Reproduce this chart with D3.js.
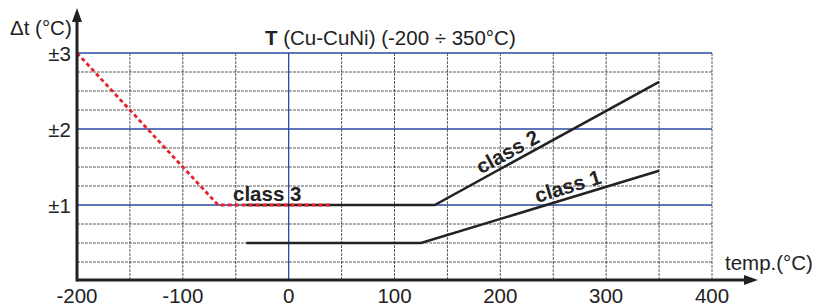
<!DOCTYPE html>
<html><head><meta charset="utf-8">
<script src="https://cdn.jsdelivr.net/npm/d3@7"></script>
<style>body{margin:0;background:#fff}text{font-family:"Liberation Sans",Arial,sans-serif}</style>
</head><body><svg id="c" width="818" height="307"></svg>
<script>
const xTicks = [-200,-100,0,100,200,300,400];
const yTicks = [1,2,3];
const yTickLabels = ["±1","±2","±3"];
const class1 = [[-40,0.5],[125,0.5],[350,1.45]];
const class2 = [[-40,1],[138,1],[350,2.62]];
const class3 = [[-200,3],[-66.7,1],[40,1]];
const titleBold = "T";
const titleRest = " (Cu-CuNi) (-200 ÷ 350°C)";

const svg = d3.select("#c");
const x = d3.scaleLinear().domain([-200,400]).range([77,712]);
const y = d3.scaleLinear().domain([0,3]).range([281,53]);
const gridCol = "#333", blue = "#2a4aa0";
const isInt = d => Math.abs(d-Math.round(d))<1e-6;

// grid
const vx = d3.range(-150,401,50);
svg.selectAll(".vg").data(vx).enter().append("line")
  .attr("x1",d=>x(d)).attr("x2",d=>x(d)).attr("y1",y(3)).attr("y2",y(0))
  .attr("stroke",d=>d===0?blue:gridCol).attr("stroke-width",d=>d===0?1.3:0.8)
  .attr("stroke-dasharray",d=>d===0?null:"3,1");
const hy = d3.range(0.25,3.01,0.25);
svg.selectAll(".hg").data(hy).enter().append("line")
  .attr("x1",x(-200)).attr("x2",x(400)).attr("y1",d=>y(d)).attr("y2",d=>y(d))
  .attr("stroke",d=>isInt(d)?blue:gridCol)
  .attr("stroke-width",d=>isInt(d)?1.3:0.8)
  .attr("stroke-dasharray",d=>isInt(d)?null:"3,1");

const line = d3.line().x(d=>x(d[0])).y(d=>y(d[1]));
svg.append("path").attr("d",line(class1)).attr("fill","none").attr("stroke","#222").attr("stroke-width",2.5);
svg.append("path").attr("d",line(class2)).attr("fill","none").attr("stroke","#222").attr("stroke-width",2.5);
svg.append("path").attr("d",line(class3)).attr("fill","none").attr("stroke","#e8202a").attr("stroke-width",2.8).attr("stroke-dasharray","4,3");

// axes
svg.append("line").attr("x1",x(-200)).attr("x2",750).attr("y1",280).attr("y2",280).attr("stroke","#222").attr("stroke-width",3);
svg.append("path").attr("d","M744,275 L758,280 L744,285 Z").attr("fill","#222");
svg.append("line").attr("x1",x(-200)).attr("x2",x(-200)).attr("y1",281.5).attr("y2",16).attr("stroke","#222").attr("stroke-width",3);
svg.append("path").attr("d",`M${x(-200)-5},22 L${x(-200)},8 L${x(-200)+5},22 Z`).attr("fill","#222");

// tick labels
const fs = 20.5;
svg.selectAll(".xt").data(xTicks).enter().append("text")
  .attr("x",d=>x(d)).attr("y",303).attr("text-anchor","middle").attr("font-size",fs).attr("fill","#222").text(d=>d);
svg.selectAll(".yt").data(yTicks).enter().append("text")
  .attr("x",71).attr("y",d=>y(d)+7.5).attr("text-anchor","end").attr("font-size",fs).attr("fill","#222").text((d,i)=>yTickLabels[i]);

svg.append("text").attr("x",10).attr("y",35).attr("font-size",fs).attr("fill","#222").text("Δt (°C)");
svg.append("text").attr("x",725).attr("y",270).attr("font-size",fs).attr("fill","#222").text("temp.(°C)");
const t = svg.append("text").attr("x",265).attr("y",45).attr("font-size",fs).attr("fill","#222");
t.append("tspan").attr("font-weight","bold").text(titleBold);
t.append("tspan").text(titleRest);

// class labels
svg.append("text").attr("x",233).attr("y",201).attr("font-size",20.5).attr("font-weight","bold").attr("fill","#222").text("class 3");
function angle(p){const a=[x(p[1][0]),y(p[1][1])],b=[x(p[2][0]),y(p[2][1])];return Math.atan2(b[1]-a[1],b[0]-a[0])*180/Math.PI;}
svg.append("text").attr("transform",`translate(511,158) rotate(${angle(class2)})`).attr("text-anchor","middle")
  .attr("font-size",20.5).attr("font-weight","bold").attr("fill","#222").text("class 2");
svg.append("text").attr("transform",`translate(570,193) rotate(${angle(class1)})`).attr("text-anchor","middle")
  .attr("font-size",20.5).attr("font-weight","bold").attr("fill","#222").text("class 1");
</script></body></html>
